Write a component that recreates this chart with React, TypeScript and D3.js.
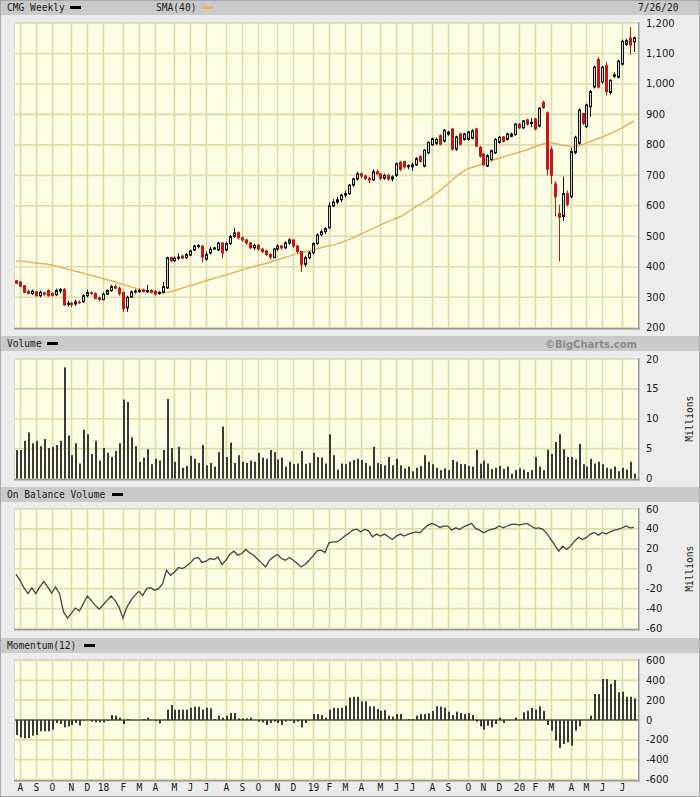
import React from "react";
import * as d3 from "d3";

// ---- data (weekly bars, week of 2017-07-31 .. 2020-07-27) ----
const START = new Date(2017, 6, 31);

const open = [
  354, 350, 338, 320, 312, 318, 305, 314, 322, 312,
  308, 320, 325, 278, 280, 278, 284, 285, 305, 315,
  312, 298, 292, 310, 322, 335, 330, 315, 265, 300,
  318, 318, 324, 318, 322, 320, 312, 316, 330, 430,
  420, 428, 435, 430, 438, 455, 466, 468, 425, 445,
  458, 455, 478, 455, 476, 500, 512, 495, 488, 478,
  462, 470, 458, 452, 440, 430, 458, 468, 462, 478,
  488, 468, 450, 408, 430, 446, 476, 505, 515, 528,
  600, 612, 620, 635, 640, 668, 688, 705, 698, 690,
  685, 712, 705, 690, 700, 688, 700, 742, 745, 728,
  728, 734, 762, 730, 774, 800, 805, 830, 812, 835,
  852, 786, 836, 818, 818, 822, 852, 792, 770, 730,
  752, 774, 808, 826, 818, 828, 834, 868, 856, 882,
  870, 885, 862, 940, 905, 785, 672, 575, 565, 640,
  630, 775, 805, 903, 860, 925, 990, 1080, 1007, 1060,
  972, 1025, 1022, 1065, 1130, 1150, 1138,
];
const high = [
  357, 352, 340, 324, 325, 320, 322, 318, 326, 316,
  328, 330, 330, 288, 285, 292, 290, 310, 325, 318,
  316, 302, 315, 326, 340, 342, 335, 320, 305, 322,
  326, 328, 328, 340, 326, 324, 320, 350, 433, 433,
  434, 444, 440, 445, 456, 472, 474, 470, 450, 465,
  466, 482, 480, 482, 505, 527, 516, 500, 492, 482,
  476, 474, 462, 456, 446, 462, 474, 472, 484, 494,
  490, 472, 452, 436, 452, 480, 510, 522, 530, 612,
  622, 630, 640, 650, 672, 692, 712, 710, 702, 695,
  720, 718, 708, 706, 704, 700, 742, 748, 748, 736,
  742, 760, 766, 786, 812, 824, 824, 834, 852, 846,
  856, 830, 840, 840, 846, 852, 856, 796, 774, 769,
  785, 822, 829, 829, 840, 840, 872, 872, 882, 886,
  888, 889, 924, 945, 910, 795, 680, 603, 696, 650,
  790, 830, 920, 905, 935, 980, 1060, 1088, 1060, 1072,
  1015, 1038, 1080, 1145, 1148, 1187, 1155,
];
const low = [
  343, 333, 313, 310, 307, 302, 300, 305, 302, 302,
  305, 312, 272, 270, 268, 272, 278, 282, 300, 308,
  293, 288, 290, 308, 318, 326, 305, 252, 252, 298,
  312, 314, 316, 314, 313, 306, 308, 312, 328, 415,
  415, 422, 426, 426, 435, 452, 460, 415, 420, 440,
  455, 452, 428, 450, 472, 495, 490, 482, 472, 458,
  455, 452, 445, 436, 425, 428, 452, 456, 458, 472,
  462, 445, 383, 400, 424, 440, 472, 500, 508, 525,
  595, 605, 612, 628, 636, 662, 682, 690, 684, 675,
  682, 700, 684, 685, 682, 680, 695, 714, 722, 720,
  715, 732, 742, 726, 770, 797, 800, 798, 808, 830,
  781, 780, 798, 814, 814, 818, 792, 758, 730, 727,
  748, 770, 804, 808, 814, 825, 830, 852, 852, 864,
  858, 847, 858, 918, 700, 672, 565, 417, 550, 598,
  625, 770, 800, 865, 855, 892, 985, 985, 1000, 962,
  965, 1020, 1018, 1060, 1125, 1095, 1105,
];
const close = [
  346, 336, 316, 312, 320, 305, 316, 310, 305, 306,
  322, 325, 275, 280, 276, 285, 282, 305, 315, 312,
  296, 292, 310, 322, 335, 330, 312, 262, 300, 318,
  320, 322, 318, 322, 316, 310, 316, 335, 430, 420,
  428, 432, 428, 440, 452, 468, 470, 432, 440, 458,
  462, 478, 445, 476, 499, 511, 495, 488, 478, 462,
  470, 458, 450, 440, 432, 458, 468, 462, 478, 488,
  468, 450, 408, 430, 446, 476, 505, 515, 525, 600,
  612, 620, 635, 640, 668, 688, 705, 698, 690, 685,
  712, 705, 690, 700, 688, 695, 738, 720, 728, 732,
  735, 755, 746, 782, 808, 820, 818, 802, 848, 842,
  786, 826, 802, 836, 842, 846, 796, 763, 735, 765,
  781, 818, 825, 812, 836, 836, 868, 856, 879, 868,
  874, 852, 920, 922, 720, 700, 630, 562, 640, 605,
  778, 825, 914, 871, 931, 975, 1055, 990, 1055, 975,
  1012, 1030, 1075, 1140, 1142, 1128, 1152,
];
const sma40 = [
  420, 418.5, 417, 415.5, 414, 412.5, 411, 409.5, 408,
  406, 403, 399.5, 396, 392.5, 389, 385.5, 382, 378.5,
  375, 371.5, 368, 364.5, 361, 357.5, 354,
  350, 346, 342, 338, 334, 330, 326,
  323.5, 321, 319, 317, 315.5, 315, 315.5,
  318, 322, 326, 330, 334, 338, 342,
  346, 350, 354, 358, 362, 366, 369.5, 373,
  377, 381, 385, 389, 393, 397, 401, 404, 407.5, 411,
  415, 419, 423, 427, 431, 435, 439, 443, 446,
  449, 452, 455.5, 459, 462.5, 466, 469, 471,
  475, 479, 484, 489,
  495, 501, 507, 513, 519, 525, 531, 537, 543, 549, 554, 559, 564,
  572, 580, 588, 597, 605, 613, 621, 630,
  640, 650, 661, 672, 683, 694, 705, 714, 721,
  726, 730, 734, 738, 743, 748, 752, 756,
  760, 764, 768, 772, 776, 780, 784, 789,
  794, 799, 803, 806, 807,
  805, 802, 799, 797, 795, 794,
  796, 801, 806, 811, 816, 821,
  826, 832, 837, 843, 849, 856, 863, 871, 879,
];
const volume = [
  4.76, 4.76, 6.3, 7.7, 5.9, 6.3, 5.4, 6.6, 5.1, 5.3,
  5.6, 6.3, 18.6, 7.2, 3.9, 5.9, 2.5, 8.2, 7.4, 4.1,
  6.3, 3.0, 5.1, 4.3, 3.6, 4.6, 5.9, 13.2, 12.8, 6.9,
  5.4, 2.8, 3.5, 4.9, 2.4, 3.3, 3.0, 4.76, 13.3, 5.1,
  2.8, 5.3, 1.8, 2.1, 3.8, 3.3, 2.6, 5.6, 2.2, 2.6,
  2.0, 4.4, 8.7, 3.6, 6.0, 2.6, 3.9, 2.8, 2.6, 3.0,
  2.8, 4.3, 3.5, 3.3, 4.76, 4.4, 3.2, 3.5, 2.0, 2.8,
  2.4, 2.5, 4.6, 2.4, 2.6, 4.3, 3.6, 3.5, 2.5, 7.4,
  3.9, 1.5, 2.5, 2.4, 2.8,
  3.1, 3.3, 3.1, 2.6, 2.1, 5.3, 2.6, 2.4, 2.2, 3.6,
  2.2, 3.3, 2.2, 1.7, 2.0, 1.2, 1.8, 2.1, 3.9, 2.8,
  2.4, 1.8, 1.4, 1.7, 1.4, 3.1, 2.8, 2.4, 2.4, 2.1,
  2.0, 4.8, 2.5, 3.0, 2.5, 1.6, 1.8, 2.1, 1.6, 2.0,
  0.8, 1.4, 1.7, 1.5, 1.1, 1.4, 3.6, 2.0, 1.4, 4.8,
  4.1, 6.1, 7.4, 4.9, 3.6, 3.6, 3.2, 5.8, 2.4, 2.0,
  3.3, 2.5, 2.8, 2.4, 1.8, 1.6, 2.0, 1.2, 1.8, 1.5,
  2.8, 0.8,
];
const obv = [
  -5.5, -11.6, -19, -25, -19.3, -25, -18.3, -13, -18.3, -24.4,
  -18.3, -25, -43.5, -49.6, -44.5, -39.5, -42.5, -35, -27.4, -31.8,
  -36.8, -40.5, -36.1, -31.8, -27.4, -31.8, -38.5, -49.6, -38.5, -31.8,
  -26.7, -22.7, -26.7, -20, -19, -21.7, -20, -14.9, -1.5, -6.6,
  -3.2, 1.2, 0.2, 2.5, 5.9, 10.3, 11.3, 6.3, 7.6, 10.3,
  9.3, 11.9, 4.2, 8.6, 14.6, 17.6, 13.6, 15.3, 19.4, 15.9,
  13.6, 9.6, 5.9, 1.8, 8.6, 11.9, 14.3, 10.3, 8.6, 11.3,
  8.6, 5.2, 1.8, 4.5, 8.6, 12.9, 17.9, 18.7, 16.3, 26,
  27, 27, 29.7, 32.8, 35.5,
  38.8, 39.8, 37.1, 39.5, 38.1, 32.1, 34.8, 32.8, 34.8, 32.1,
  29.4, 32.8, 34.8, 32.8, 34.8, 36.1, 37.1, 36.1, 40.5, 43.9,
  45.6, 43.9, 41.5, 42.9, 42.9, 38.8, 41.1, 39.5, 42.1, 43.9,
  45.6, 40.5, 38.8, 36.1, 38.1, 39.5, 40.5, 42.9, 41.1, 42.9,
  44.6, 44.9, 43.9, 44.9, 45.6, 42.9, 40.5, 41.1, 39.5, 35.5,
  29.4, 23.7, 17.6, 22.7, 19.4, 22.7, 27.7, 31.5, 29.4, 31.5,
  34.8, 36.5, 33.8, 36.5, 34.8, 37.1, 38.8, 39.5, 41.1, 42.9,
  41.1, 41.5,
];
const momentum = [
  -151, -175, -185, -181, -158, -151, -114, -114, -114, -97,
  -30, -40, -74, -64, -50, -30, -57, -5, 0, -17,
  -24, -24, -24, -8, 50, 44, 24, -40, 10, 0,
  0, 0, 10, 24, 0, -7, -34, 2, 104, 151,
  104, 104, 104, 104, 124, 134, 134, 104, 124, 118,
  10, 44, 24, 44, 71, 71, 17, 17, 17, 24,
  0, -17, -24, -50, -30, -17, -30, -50, -17, -7,
  -30, -17, -74, -30, 0, 60, 60, 50, 24, 104,
  124, 118, 124, 144, 228, 235, 235, 188, 188, 138,
  138, 111, 94, 101, 44, 34, 60, 60, 0, 10,
  10, 44, 60, 60, 67, 91, 138, 134, 124, 84,
  50, 84, 71, 60, 71, 50, -17, -64, -97, -57,
  -74, -40, 24, -30, 0, 0, 24, 0, 77, 94,
  121, 104, 138, 91, -50, -108, -208, -282, -242, -225,
  -259, -108, -64, 0, 0, 44, 262, 262, 413, 413,
  363, 403, 279, 286, 235, 235, 218,
];

const priceTicks = [200, 300, 400, 500, 600, 700, 800, 900, 1000, 1100, 1200];
const volumeTicks = [0, 5, 10, 15, 20];
const obvTicks = [-60, -40, -20, 0, 20, 40, 60];
const momentumTicks = [-600, -400, -200, 0, 200, 400, 600];
const monthLetters = ["J", "F", "M", "A", "M", "J", "J", "A", "S", "O", "N", "D"];
const dateLabel = "7/26/20";

const MONO = "'DejaVu Sans Mono', monospace";
const SANS = "'DejaVu Sans', Verdana, sans-serif";
const GRID = "#dedcab";
const PLOT_BG = "#fefee4";
const RED = "#c81616";
const SMA_COLOR = "#e6b362";

export default function App() {
  const W = 700;
  const H = 797;
  const L = 14;
  const R = 638;
  const N = close.length;
  const x = d3.scaleLinear().domain([0, N - 1]).range([16, 634]);
  const px = (i: number) => Math.round(x(i));

  const yP = d3.scaleLinear().domain([200, 1200]).range([327.7, 23]);
  const yV = d3.scaleLinear().domain([0, 20]).range([478.5, 359]);
  const yO = d3.scaleLinear().domain([-60, 60]).range([628.5, 509]);
  const yM = d3.scaleLinear().domain([-600, 600]).range([779.5, 660.5]);

  const weeks = d3.range(N).map((i) => d3.timeDay.offset(START, 7 * i));
  const monthStarts = d3.range(1, N).filter((i) => weeks[i].getMonth() !== weeks[i - 1].getMonth());
  const monthLabel = (i: number) => {
    const m = weeks[i].getMonth();
    return m === 0 ? d3.timeFormat("%y")(weeks[i]) : monthLetters[m];
  };

  const panels = [
    { key: "price", top: 22, bottom: 328, ticks: priceTicks, y: yP, fmt: (v: number) => d3.format(",")(v) },
    { key: "vol", top: 358, bottom: 479, ticks: volumeTicks, y: yV, fmt: (v: number) => String(v) },
    { key: "obv", top: 508, bottom: 629, ticks: obvTicks, y: yO, fmt: (v: number) => String(v) },
    { key: "mom", top: 659, bottom: 780, ticks: momentumTicks, y: yM, fmt: (v: number) => String(v) },
  ];

  const headers = [
    { y: 0, h: 15, label: "CMG Weekly", dashX: 70 },
    { y: 336, h: 15, label: "Volume", dashX: 47 },
    { y: 487, h: 15, label: "On Balance Volume", dashX: 112 },
    { y: 638, h: 15, label: "Momentum(12)", dashX: 84 },
  ];

  const smaLine = d3
    .line<number>()
    .x((_, i) => x(i))
    .y((d) => yP(d))
    .curve(d3.curveLinear)(sma40);
  const obvLine = d3
    .line<number>()
    .x((_, i) => x(i))
    .y((d) => yO(d))(obv);

  return (
    <svg
      width={W}
      height={H}
      viewBox={`0 0 ${W} ${H}`}
      style={{ position: "absolute", left: 0, top: 0, display: "block" }}
    >
      <rect x={0} y={0} width={W} height={H} fill="#ececec" />

      {headers.map((h) => (
        <g key={h.label}>
          <rect x={0} y={h.y} width={W} height={h.h} fill="#cacaca" />
          <text x={7} y={h.y + 11} fontFamily={MONO} fontSize={9.6} fill="#1a1a1a">
            {h.label}
          </text>
          <rect x={h.dashX} y={h.y + 6} width={11} height={3} fill="#000" />
        </g>
      ))}
      <text x={156} y={11} fontFamily={MONO} fontSize={9.6} fill="#1a1a1a">
        SMA(40)
      </text>
      <rect x={202} y={6} width={11} height={3} fill={SMA_COLOR} />
      <text x={638} y={11} fontFamily={MONO} fontSize={9.6} fill="#1a1a1a">
        {dateLabel}
      </text>
      <text x={637} y={348} textAnchor="end" fontFamily={SANS} fontWeight="bold" fontSize={10} fill="#8a8a8a">
        ©BigCharts.com
      </text>

      {panels.map((p) => (
        <g key={p.key}>
          <rect x={L} y={p.top} width={R - L} height={p.bottom - p.top} fill={PLOT_BG} />
          {monthStarts.map((i) => (
            <line key={i} x1={px(i) + 0.5} x2={px(i) + 0.5} y1={p.top} y2={p.bottom} stroke={GRID} strokeWidth={1.6} />
          ))}
          {p.ticks.map((t) => (
            <line key={t} x1={L} x2={R} y1={p.y(t)} y2={p.y(t)} stroke={GRID} strokeWidth={1.6} />
          ))}
          {p.ticks.map((t) => (
            <text key={"l" + t} x={646} y={p.y(t)} dy="0.35em" fontFamily={SANS} fontSize={10} fill="#1a1a1a">
              {p.fmt(t)}
            </text>
          ))}
        </g>
      ))}

      {/* SMA */}
      <path d={smaLine || ""} fill="none" stroke={SMA_COLOR} strokeWidth={1.5} />

      {/* candles */}
      {close.map((c, i) => {
        const o = open[i];
        const up = c >= o;
        const cx = px(i);
        const top = yP(Math.max(o, c));
        const bot = yP(Math.min(o, c));
        const col = up ? "#111" : RED;
        return (
          <g key={i}>
            <line x1={cx + 0.5} x2={cx + 0.5} y1={yP(high[i])} y2={yP(low[i])} stroke={col} strokeWidth={1} />
            {up ? (
              <rect x={cx - 0.5} y={top} width={2} height={Math.max(1, bot - top)} fill="#d4d4d4" stroke="#111" strokeWidth={1} />
            ) : (
              <rect x={cx - 1} y={top - 0.5} width={3} height={Math.max(1.5, bot - top + 1)} fill={RED} />
            )}
          </g>
        );
      })}

      {/* volume */}
      {volume.map((v, i) => (
        <rect key={i} x={px(i)} y={yV(v)} width={2} height={yV(0) - yV(v)} fill="#3a3a3a" />
      ))}

      {/* OBV */}
      <path d={obvLine || ""} fill="none" stroke="#444" strokeWidth={1.3} />

      {/* momentum */}
      <line x1={L} x2={R} y1={yM(0)} y2={yM(0)} stroke="#111" strokeWidth={1.2} />
      {momentum.map((m, i) => (
        <rect key={i} x={px(i)} y={Math.min(yM(m), yM(0))} width={2} height={Math.abs(yM(m) - yM(0))} fill="#3a3a3a" />
      ))}

      {/* panel frames */}
      {panels.map((p) => (
        <g key={"f" + p.key}>
          <line x1={L} x2={R} y1={p.top + 0.5} y2={p.top + 0.5} stroke="#d6d6d6" />
          <line x1={L + 0.5} x2={L + 0.5} y1={p.top} y2={p.bottom} stroke="#d6d6d6" />
          <line x1={R + 0.75} x2={R + 0.75} y1={p.top} y2={p.bottom + 1.5} stroke="#9a9a9a" strokeWidth={1.5} />
          <line x1={L} x2={R + 1.5} y1={p.bottom + 0.75} y2={p.bottom + 0.75} stroke="#9a9a9a" strokeWidth={1.5} />
        </g>
      ))}

      {/* Millions labels */}
      {[yV, yO].map((s, k) => {
        const cy = (s.range()[0] + s.range()[1]) / 2;
        return (
          <text
            key={k}
            transform={`translate(693,${cy}) rotate(-90)`}
            textAnchor="middle"
            fontFamily={MONO}
            fontSize={9.6}
            fill="#1a1a1a"
          >
            Millions
          </text>
        );
      })}

      {/* x axis labels */}
      {monthStarts.map((i) => (
        <text key={"m" + i} x={px(i) + 0.5} y={791} textAnchor="middle" fontFamily={MONO} fontSize={9.6} fill="#1a1a1a">
          {monthLabel(i)}
        </text>
      ))}

      <rect x={0.5} y={0.5} width={W - 1} height={H - 1} fill="none" stroke="#a8a8a8" />
    </svg>
  );
}
